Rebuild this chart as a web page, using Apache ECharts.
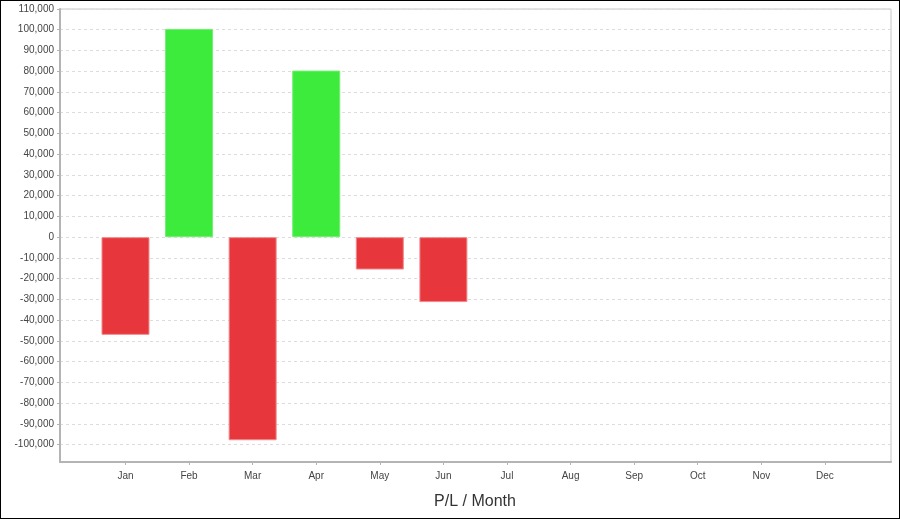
<!DOCTYPE html>
<html>
<head>
<meta charset="utf-8">
<script src="https://cdn.jsdelivr.net/npm/echarts@6/dist/echarts.min.js"></script>
<style>
html,body{margin:0;padding:0;background:#fff;}
#wrap{position:absolute;left:0;top:0;width:898px;height:517px;border:1px solid #000;}
#chart{width:898px;height:517px;}
</style>
</head>
<body>
<div id="wrap"><div id="chart"></div></div>
<script>
const months = ['Jan','Feb','Mar','Apr','May','Jun','Jul','Aug','Sep','Oct','Nov','Dec'];
const plValues = [-47100, 100400, -97900, 80300, -15600, -31300, null, null, null, null, null, null];
const yTicks = [-100000,-90000,-80000,-70000,-60000,-50000,-40000,-30000,-20000,-10000,0,10000,20000,30000,40000,50000,60000,70000,80000,90000,100000,110000];
const xTicks = [0,1,2,3,4,5,6,7,8,9,10,11];
const chartTitle = 'P/L / Month';

const chart = echarts.init(document.getElementById('chart'));
const font = 'Liberation Sans, Arial, sans-serif';
chart.setOption({
  animation: false,
  grid: { left: 59, right: 8, top: 8, bottom: 56, show: true, borderColor: '#c8c8c8', borderWidth: 1 },
  title: { text: chartTitle, left: 469, textAlign: 'center', bottom: 3, textStyle: { fontFamily: font, fontSize: 16, fontWeight: 'normal', color: '#333' } },
  xAxis: {
    type: 'value', min: -1.03, max: 12.04,
    axisLine: { show: true, onZero: false, lineStyle: { color: '#b4b4b4', width: 2 } },
    axisTick: { show: true, length: 3, customValues: xTicks, lineStyle: { color: '#b4b4b4' } },
    axisLabel: { customValues: xTicks, fontFamily: font, fontSize: 10, color: '#444', margin: 9,
      formatter: v => months[Math.round(v)] || '' },
    splitLine: { show: false }
  },
  yAxis: {
    type: 'value', min: -108400, max: 110000,
    axisLine: { show: true, onZero: false, lineStyle: { color: '#b4b4b4', width: 2 } },
    axisTick: { show: true, length: 3, customValues: yTicks, lineStyle: { color: '#b4b4b4' } },
    axisLabel: { customValues: yTicks, fontFamily: font, fontSize: 10, color: '#444', margin: 6,
      formatter: v => v.toLocaleString('en-US') },
    splitLine: { show: true, lineStyle: { color: '#dcdcdc', type: [3, 3], width: 1 } }
  },
  series: [{
    type: 'bar',
    barWidth: 48,
    data: plValues.map((v, i) => ({
      value: [i, v],
      itemStyle: { color: v >= 0 ? '#3deb3d' : '#e8373c', borderColor: v >= 0 ? '#6ff06f' : '#f08a8d', borderWidth: 1 }
    }))
  }]
});
</script>
</body>
</html>
